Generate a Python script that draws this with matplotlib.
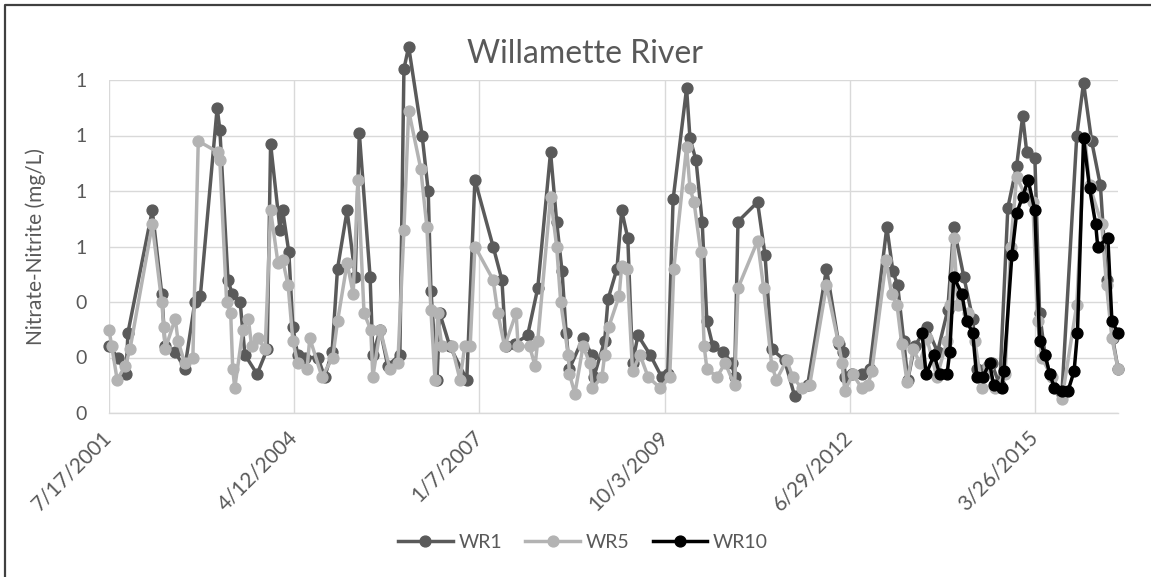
import numpy as np
import pandas as pd
import matplotlib
matplotlib.use("Agg")
import matplotlib.pyplot as plt
import matplotlib.dates as mdates
from matplotlib.lines import Line2D

plt.rcParams['font.family'] = ['Lato', 'DejaVu Sans']

# sample dates as decimal years, values in mg/L
wr1_years = [2001.54, 2001.67, 2001.79, 2001.82, 2002.18, 2002.32, 2002.37, 2002.52, 2002.66, 2002.81,
             2002.89, 2003.14, 2003.18, 2003.30, 2003.36, 2003.48, 2003.55, 2003.73, 2003.88, 2003.93,
             2004.07, 2004.11, 2004.20, 2004.26, 2004.33, 2004.44, 2004.63, 2004.73, 2004.84, 2004.92,
             2005.06, 2005.18, 2005.24, 2005.40, 2005.44, 2005.55, 2005.66, 2005.84, 2005.90, 2005.97,
             2006.17, 2006.26, 2006.30, 2006.39, 2006.43, 2006.58, 2006.83, 2006.95, 2007.22, 2007.35,
             2007.41, 2007.54, 2007.73, 2007.88, 2008.07, 2008.16, 2008.24, 2008.30, 2008.35, 2008.55,
             2008.68, 2008.71, 2008.87, 2008.92, 2009.05, 2009.12, 2009.21, 2009.28, 2009.36, 2009.54,
             2009.71, 2009.80, 2009.88, 2010.08, 2010.13, 2010.22, 2010.31, 2010.38, 2010.47, 2010.62,
             2010.75, 2010.79, 2010.84, 2011.13, 2011.24, 2011.34, 2011.53, 2011.68, 2011.87, 2012.15,
             2012.33, 2012.39, 2012.43, 2012.52, 2012.67, 2012.79, 2013.04, 2013.13, 2013.20, 2013.29,
             2013.35, 2013.45, 2013.63, 2013.79, 2013.94, 2014.03, 2014.18, 2014.31, 2014.37, 2014.59,
             2014.71, 2014.83, 2014.96, 2015.05, 2015.11, 2015.23, 2015.30, 2015.38, 2015.45, 2015.63,
             2015.85, 2015.95, 2016.07, 2016.20, 2016.29, 2016.38, 2016.46]
wr1_values = [0.24, 0.20, 0.14, 0.29, 0.73, 0.43, 0.24, 0.22, 0.16, 0.40,
              0.42, 1.10, 1.02, 0.48, 0.43, 0.40, 0.21, 0.14, 0.23, 0.97,
              0.66, 0.73, 0.58, 0.31, 0.21, 0.20, 0.20, 0.13, 0.22, 0.52,
              0.73, 0.49, 1.01, 0.49, 0.21, 0.30, 0.17, 0.21, 1.24, 1.32,
              1.00, 0.80, 0.44, 0.12, 0.36, 0.24, 0.12, 0.84, 0.60, 0.48,
              0.24, 0.25, 0.28, 0.45, 0.94, 0.69, 0.51, 0.29, 0.16, 0.27,
              0.21, 0.13, 0.26, 0.41, 0.52, 0.73, 0.63, 0.18, 0.28, 0.21,
              0.13, 0.14, 0.77, 1.17, 0.99, 0.91, 0.69, 0.33, 0.24, 0.22,
              0.18, 0.13, 0.69, 0.76, 0.57, 0.23, 0.19, 0.06, 0.10, 0.52,
              0.25, 0.22, 0.13, 0.14, 0.14, 0.16, 0.67, 0.51, 0.46, 0.26,
              0.12, 0.24, 0.31, 0.22, 0.37, 0.67, 0.49, 0.34, 0.16, 0.18,
              0.10, 0.74, 0.89, 1.07, 0.94, 0.92, 0.36, 0.21, 0.14, 0.07,
              1.00, 1.19, 0.98, 0.82, 0.48, 0.27, 0.16]

wr5_years = [2001.54, 2001.58, 2001.66, 2001.78, 2001.85, 2002.18, 2002.32, 2002.35, 2002.37, 2002.52,
             2002.56, 2002.66, 2002.78, 2002.86, 2003.15, 2003.18, 2003.28, 2003.34, 2003.37, 2003.40,
             2003.52, 2003.60, 2003.65, 2003.74, 2003.85, 2003.93, 2004.04, 2004.11, 2004.19, 2004.26,
             2004.33, 2004.47, 2004.51, 2004.69, 2004.85, 2004.92, 2005.06, 2005.15, 2005.22, 2005.31,
             2005.41, 2005.44, 2005.55, 2005.69, 2005.81, 2005.90, 2005.97, 2006.15, 2006.24, 2006.30,
             2006.36, 2006.40, 2006.46, 2006.61, 2006.73, 2006.80, 2006.88, 2006.95, 2007.22, 2007.29,
             2007.39, 2007.56, 2007.59, 2007.76, 2007.84, 2007.88, 2008.07, 2008.16, 2008.22, 2008.33,
             2008.35, 2008.43, 2008.55, 2008.65, 2008.69, 2008.83, 2008.87, 2008.93, 2009.08, 2009.12,
             2009.20, 2009.28, 2009.39, 2009.51, 2009.69, 2009.83, 2009.89, 2010.08, 2010.13, 2010.19,
             2010.29, 2010.34, 2010.38, 2010.53, 2010.65, 2010.79, 2010.84, 2011.13, 2011.22, 2011.34,
             2011.41, 2011.56, 2011.65, 2011.78, 2011.90, 2012.15, 2012.32, 2012.38, 2012.42, 2012.54,
             2012.67, 2012.76, 2012.82, 2013.03, 2013.11, 2013.19, 2013.26, 2013.34, 2013.43, 2013.53,
             2013.63, 2013.78, 2013.93, 2013.97, 2014.03, 2014.09, 2014.24, 2014.34, 2014.45, 2014.53,
             2014.64, 2014.79, 2014.87, 2014.96, 2015.08, 2015.20, 2015.27, 2015.33, 2015.48, 2015.63,
             2015.85, 2015.97, 2016.04, 2016.22, 2016.29, 2016.37, 2016.46]
wr5_values = [0.30, 0.24, 0.12, 0.17, 0.23, 0.68, 0.40, 0.31, 0.23, 0.34,
              0.26, 0.18, 0.20, 0.98, 0.94, 0.91, 0.40, 0.36, 0.16, 0.09,
              0.30, 0.34, 0.24, 0.27, 0.23, 0.73, 0.54, 0.55, 0.46, 0.26,
              0.18, 0.16, 0.27, 0.13, 0.20, 0.33, 0.54, 0.43, 0.84, 0.36,
              0.30, 0.13, 0.30, 0.16, 0.18, 0.66, 1.09, 0.88, 0.67, 0.37,
              0.12, 0.36, 0.24, 0.24, 0.12, 0.24, 0.24, 0.60, 0.48, 0.36,
              0.24, 0.36, 0.24, 0.24, 0.17, 0.26, 0.78, 0.60, 0.40, 0.21,
              0.14, 0.07, 0.24, 0.18, 0.09, 0.13, 0.21, 0.31, 0.42, 0.53,
              0.52, 0.15, 0.21, 0.13, 0.09, 0.13, 0.52, 0.96, 0.81, 0.76,
              0.58, 0.24, 0.16, 0.13, 0.18, 0.10, 0.45, 0.62, 0.45, 0.17,
              0.12, 0.19, 0.13, 0.09, 0.10, 0.46, 0.26, 0.18, 0.08, 0.14,
              0.09, 0.10, 0.15, 0.55, 0.43, 0.39, 0.25, 0.11, 0.23, 0.18,
              0.27, 0.13, 0.26, 0.39, 0.63, 0.39, 0.36, 0.26, 0.09, 0.17,
              0.09, 0.14, 0.60, 0.85, 0.79, 0.76, 0.33, 0.20, 0.13, 0.05,
              0.39, 0.99, 0.82, 0.68, 0.46, 0.27, 0.16]

wr10_years = [2013.56, 2013.62, 2013.74, 2013.82, 2013.93, 2013.97, 2014.03, 2014.15, 2014.22, 2014.31,
              2014.37, 2014.46, 2014.56, 2014.62, 2014.74, 2014.77, 2014.89, 2014.96, 2015.05, 2015.13,
              2015.23, 2015.30, 2015.38, 2015.45, 2015.52, 2015.63, 2015.72, 2015.81, 2015.86, 2015.95,
              2016.04, 2016.13, 2016.16, 2016.31, 2016.37, 2016.46]
wr10_values = [0.29, 0.14, 0.21, 0.14, 0.14, 0.22, 0.49, 0.43, 0.33, 0.29,
               0.13, 0.13, 0.18, 0.10, 0.09, 0.15, 0.57, 0.72, 0.78, 0.84,
               0.73, 0.26, 0.21, 0.14, 0.09, 0.08, 0.08, 0.15, 0.29, 0.99,
               0.81, 0.68, 0.60, 0.63, 0.33, 0.29]

series_names = ["WR1", "WR5", "WR10"]
series_colors = ["#5a5a5a", "#b3b3b3", "#000000"]
x_tick_labels = ["7/17/2001", "4/12/2004", "1/7/2007", "10/3/2009", "6/29/2012", "3/26/2015"]
y_ticks = [0, 0.2, 0.4, 0.6, 0.8, 1.0, 1.2]

TXT = "#595959"
GRID = "#d9d9d9"


def year_to_num(years):
    years = np.asarray(years, dtype=float)
    whole = np.floor(years).astype(int)
    starts = pd.to_datetime([f"{y}-01-01" for y in whole])
    dates = starts + pd.to_timedelta((years - whole) * 365.25, unit="D")
    return mdates.date2num(dates.values)


fig = plt.figure(figsize=(11.51, 5.77), dpi=100)
ax = fig.add_axes([109 / 1151, 1 - 413 / 577, (1118 - 109) / 1151, (413 - 80) / 577])

all_series = [(wr1_years, wr1_values), (wr5_years, wr5_values), (wr10_years, wr10_values)]
x_max = 0
for k, ((yrs, vals), color) in enumerate(zip(all_series, series_colors)):
    xs = year_to_num(yrs)
    x_max = max(x_max, xs.max())
    ax.plot(xs, vals, "-o", color=color, lw=2.5, ms=7.8, zorder=3 + k,
            solid_joinstyle="round", solid_capstyle="round", clip_on=False)

x_ticks = mdates.date2num(pd.to_datetime(x_tick_labels, format="%m/%d/%Y").values)
ax.set_xlim(x_ticks[0], x_max)
ax.set_ylim(0, 1.2)
ax.set_xticks(x_ticks)
ax.set_xticklabels(x_tick_labels, rotation=45, ha="right", va="center",
                   rotation_mode="anchor", color=TXT, fontsize=15)
ax.set_yticks(y_ticks)
ax.set_yticklabels([f"{v:.0f}" for v in y_ticks], color=TXT, fontsize=14)
ax.tick_params(axis="both", length=0)
ax.tick_params(axis="x", pad=15)
ax.tick_params(axis="y", pad=16)
ax.grid(True, color=GRID, lw=1.0)
ax.set_axisbelow(True)
for side in ["top", "right", "left"]:
    ax.spines[side].set_visible(False)
ax.spines["bottom"].set_color(GRID)
ax.spines["bottom"].set_linewidth(1.0)

fig.text(585 / 1151, 1 - 63 / 577, "Willamette River", ha="center", va="baseline",
         color=TXT, fontsize=23)
fig.text(36 / 1151, 1 - 247 / 577, "Nitrate-Nitrite (mg/L)", rotation=90,
         ha="center", va="center", color=TXT, fontsize=15)

handles = [Line2D([], [], color=c, lw=2.5, marker="o", ms=7.8) for c in series_colors]
fig.legend(handles, series_names, loc="center", bbox_to_anchor=(583 / 1151, 1 - 542 / 577),
           ncol=3, frameon=False, fontsize=14, handlelength=2.8, handletextpad=0.3,
           columnspacing=1.2, labelcolor=TXT)

# outer chart border (left and top only are visible)
border_x = 5 / 1151
border_y = 1 - 5 / 577
fig.add_artist(Line2D([border_x, border_x, 1], [0, border_y, border_y],
                      transform=fig.transFigure, color="#404040", lw=1.6))

fig.savefig("out.png", dpi=100, facecolor="white")
